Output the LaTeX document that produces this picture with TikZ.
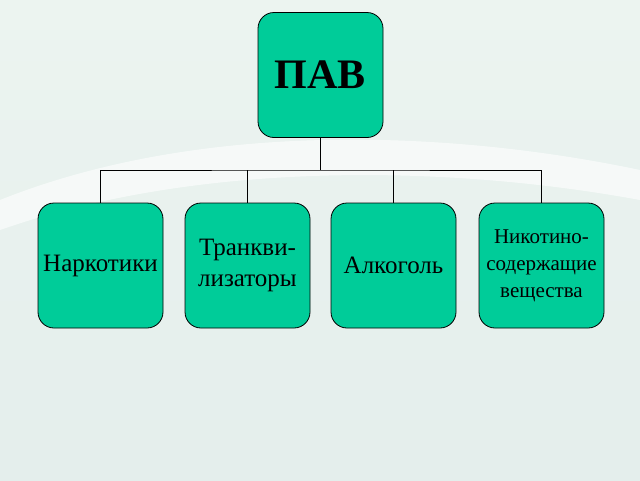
\documentclass[tikz,border=0pt]{standalone}
\usepackage{fontspec}
\setmainfont{Liberation Serif}
\newfontfamily\narrowfont[FakeStretch=1.0]{Liberation Serif}
\begin{document}
\begin{tikzpicture}[x=1pt,y=-1pt,
  box/.style={draw=black, line width=0.8pt, fill={rgb,255:red,0;green,204;blue,153}, rounded corners=16pt, minimum width=125pt, minimum height=125pt, align=center, inner sep=0pt, font=\narrowfont\fontsize{25}{31}\selectfont},
  conn/.style={draw=black, line width=1pt}]
\useasboundingbox (0,0) rectangle (640,480);
\shade[top color={rgb,255:red,236;green,244;blue,240}, bottom color={rgb,255:red,228;green,238;blue,236}] (0,0) rectangle (640,480);
\fill[white,opacity=0.6] (0,200) .. controls (200,120) and (450,130) .. (640,170) -- (640,200) .. controls (450,165) and (200,160) .. (0,230) -- cycle;
\node[box, font=\fontsize{42}{46}\selectfont\bfseries] (pav) at (320.5,75) {ПАВ};
\node[box] (a) at (100.5,265.5) {Наркотики};
\node[box] (b) at (247.5,265.5) {Транкви-\\лизаторы};
\node[box] (c) at (393.5,265.5) {Алкоголь};
\node[box, font=\narrowfont\fontsize{21}{27}\selectfont] (d) at (541.5,265.5) {Никотино-\\содержащие\\вещества};
\coordinate (j) at (320.5,170);
\draw[conn] (pav.south) -- (j);
\draw[conn] (a.north) |- (j) -| (d.north);
\draw[conn] (b.north) -- (b.north |- j);
\draw[conn] (c.north) -- (c.north |- j);
\end{tikzpicture}
\end{document}
